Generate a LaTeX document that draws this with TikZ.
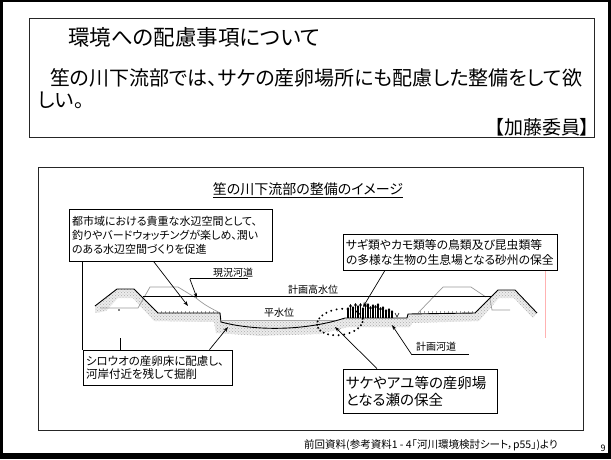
\documentclass[tikz,border=0pt]{standalone}
\usepackage{fontspec}
\setmainfont{Noto Sans CJK JP}[RawFeature=+palt]
\usetikzlibrary{arrows.meta,positioning,patterns,calc}

\begin{document}
\begin{tikzpicture}[x=1pt,y=-1pt,
  panel/.style={draw=black!85, line width=0.8pt, inner sep=0pt},
  callout/.style={draw, fill=white, line width=0.7pt, align=left, inner sep=3pt, font=\fontsize{11}{14}\selectfont},
  lbl/.style={inner sep=0pt, font=\fontsize{10}{12}\selectfont},
  arr/.style={-{Stealth[length=5pt,width=3.5pt]}, line width=0.7pt},
  lead/.style={line width=0.7pt},
  bed/.style={fill=gray!15, postaction={pattern=crosshatch dots, pattern color=gray!65}},
  oldbank/.style={gray!80, line width=0.7pt},
  plant/.style={line width=1.1pt},
  grass/.style={gray!75, line width=0.5pt},
]
\useasboundingbox (0,0) rectangle (611,459);

% slide frame
\draw[line width=2.5pt] (1.5,1.2) rectangle (609.5,454);
\fill (0,453) rectangle (611,459);

% request box
\node[panel, minimum width=565, minimum height=119] (ask) at (311.5,77.5) {};
\node[anchor=west, inner sep=0pt, font=\fontsize{21.5}{24}\selectfont] (title) at (68,37) {環境への配慮事項について};
\node[anchor=west, inner sep=0pt, font=\fontsize{20}{22}\selectfont] (req1) at (50,78) {笙の川下流部では、サケの産卵場所にも配慮した整備をして欲};
\node[anchor=west, inner sep=0pt, font=\fontsize{20}{22}\selectfont] (req2) at (38,100) {しい。};
\node[anchor=east, inner sep=0pt, font=\fontsize{19}{22}\selectfont] (who) at (590,127) {【加藤委員】};

% image panel
\node[panel, minimum width=545, minimum height=263] (img) at (310.5,298.5) {};
\node[inner sep=0pt, font=\fontsize{14}{16}\selectfont] (cap) at (308,190) {\underline{笙の川下流部の整備のイメージ}};

% river bed of the planned section
\path[bed] (95,306) -- (117,289) -- (134,289) -- (158,313) -- (220,313) -- (221,321)
  -- (335,321) -- (345,318) -- (407,318) -- (408,314) -- (475,313) -- (498,290)
  -- (515,290) -- (537,313) -- (533,318) -- (514,298) -- (499,298) -- (479,321)
  -- (412,323) -- (410,327) -- (348,327) -- (320,334) -- (260,336) -- (216,333)
  -- (214,322) -- (154,321) -- (133,298) -- (118,298) -- (106,311) -- (95,313) -- cycle;

% present banks
\draw[oldbank] (100,308) -- (138,308) -- (150,287) -- (178,287) -- (196,298) .. controls (205,305) .. (220,313);
\draw[oldbank] (418,313) -- (443,287) -- (471,287) -- (486,297);
\draw[oldbank] (490,299) -- (492,310) -- (510,310);

% grass on the benches
\foreach \x in {161,165,...,217} \draw[grass] (\x,313) -- (\x,310.5);
\foreach \x in {420,424,...,472} \draw[grass] (\x,313) -- (\x,310.5);

% water levels
\draw[line width=0.6pt] (143,296) -- (492,296);
\draw[gray!70, line width=0.6pt] (222,320) -- (335,320);

% planned profile and low-water bed
\draw[line width=0.9pt] (95,306) -- (117,289) -- (134,289) -- (158,313) -- (220,313) -- (221,322);
\draw[line width=0.9pt] (221,322) .. controls (255,331) and (305,331) .. (345,318) -- (407,318) -- (408,314)
  -- (475,313) -- (498,290) -- (515,290) -- (537,313);
\fill (119,310) circle (0.8);

% vegetation on the sand bar
\foreach \x/\h in {348/309,350.5/306,353/308,355.5/305,358/307,360.5/305,363/309,365.5/306,368/305,
  370.5/308,373/306,375.5/307,378/305,380.5/309,383/308,386/311,389/310,392/312}
{
  \draw[plant] (\x,318) -- (\x,\h);
  \fill (\x,\h) ellipse (1.3 and 1.9);
}
\draw[line width=0.6pt] (395,313) -- (397,317) -- (399,313);

% spawning riffle, dotted ring
\begin{scope}[rotate around={8:(340,322)}]
  \foreach \a in {0,14,...,346}
    \fill ($(340,322)+(\a:23 and 13)$) circle (1.1);
\end{scope}

\draw[red!30, line width=0.6pt] (545,268) -- (545,338);

% labels in the section
\node[lbl] (genkyo) at (233,273) {現況河道};
\node[lbl] (hhwl) at (313,290) {計画高水位};
\node[lbl] (nwl) at (279,313) {平水位};
\node[lbl] (keikaku) at (436,347) {計画河道};

% callouts
\node[callout, text width=197, minimum height=52] (waterside) at (170.5,235) {都市域における貴重な水辺空間として、\\釣りやバードウォッチングが楽しめ、潤い\\のある水辺空間づくりを促進};
\node[callout, text width=208, minimum height=36, font=\fontsize{11.8}{15}\selectfont] (sandbar) at (450,252) {サギ類やカモ類等の鳥類及び昆虫類等\\の多様な生物の生息場となる砂州の保全};
\node[callout, text width=143, minimum height=35, font=\fontsize{11.5}{13.5}\selectfont] (shirouo) at (157.5,367.5) {シロウオの産卵床に配慮し、\\河岸付近を残して掘削};
\node[callout, line width=0.9pt, text width=148, minimum height=44, font=\fontsize{14.5}{17}\selectfont] (riffle) at (420,391) {サケやアユ等の産卵場\\となる瀬の保全};

% arrow tips
\coordinate (tipwater) at (188,306);
\coordinate (tipgenkyo) at (197,298);
\coordinate (tipbar) at (363,307);
\coordinate (tipshirouo) at (228,327);
\coordinate (tipriffle) at (335,327);
\coordinate (tipkeikaku) at (392,325);

\draw[arr] ([xshift=-17pt]waterside.south) -- (tipwater);
\draw[lead] (genkyo.south west) ++(-23pt,-1pt) coordinate (gk) -- ++(58pt,0);
\draw[arr] (gk) -- (tipgenkyo);
\draw[arr] ([xshift=-65pt]sandbar.south) -- (tipbar);
\draw[arr] ([xshift=52pt]shirouo.north) -- (tipshirouo);
\draw[arr] ([xshift=-43pt]riffle.north) -- (tipriffle);
\draw[lead] (keikaku.south west) ++(-4pt,-3pt) coordinate (kk) -- ++(57pt,0);
\draw[arr] (kk) -- (tipkeikaku);
\draw[line width=0.6pt] (waterside.south west -| shirouo.north west) -- (shirouo.north west);
\draw[line width=0.6pt] ([xshift=38pt]shirouo.north west) -- ++(0,12pt);

% source note
\node[inner sep=0pt, font=\fontsize{10.5}{12}\selectfont] (src) at (431,445) {前回資料(参考資料1 - 4「河川環境検討シート，p55」)より};
\node[inner sep=0pt, font=\fontsize{9}{10}\selectfont] (page) at (603,448) {9};
\end{tikzpicture}
\end{document}
